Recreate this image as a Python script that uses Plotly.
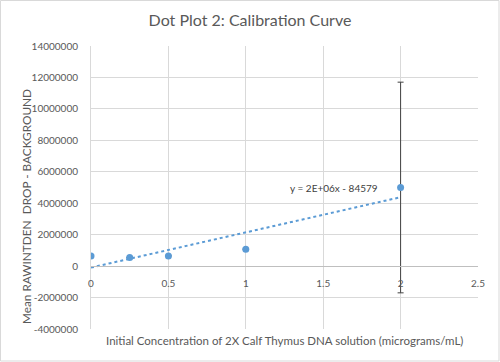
import numpy as np
import plotly.graph_objects as go

conc = [0, 0.25, 0.5, 1, 2]
mean_signal = [650000, 550000, 650000, 1080000, 5000000]
err = [0, 0, 0, 0, 6700000]
err_visible = [False, False, False, False, True]
x_ticks = [0, 0.5, 1, 1.5, 2, 2.5]
x_tick_labels = ["0", "0.5", "1", "1.5", "2", "2.5"]
y_ticks = list(range(-4000000, 14000001, 2000000))
y_tick_labels = [str(v) for v in y_ticks]
equation = "y = 2E+06x - 84579"

slope, intercept = np.polyfit(conc, mean_signal, 1)
tx = [min(conc), max(conc)]
ty = [slope * v + intercept for v in tx]

BLUE = "#5B9BD5"
GRAY = "#595959"
FONT = "Lato"

fig = go.Figure()
fig.add_trace(go.Scatter(x=tx, y=ty, mode="lines",
                         line=dict(color=BLUE, width=2, dash="dot"),
                         hoverinfo="skip", showlegend=False))
fig.add_trace(go.Scatter(
    x=conc, y=mean_signal, mode="markers",
    marker=dict(color=BLUE, size=7),
    error_y=dict(type="data", array=[e if v else None for e, v in zip(err, err_visible)],
                 visible=True, color="#404040", thickness=1, width=3),
    showlegend=False))

fig.update_layout(
    width=500, height=362,
    margin=dict(l=91, r=22, t=46, b=33, autoexpand=False),
    paper_bgcolor="white", plot_bgcolor="white",
    font=dict(family=FONT, color=GRAY, size=10),
    title=dict(text="Dot Plot 2: Calibration Curve", x=250/500, xanchor="center",
               xref="container", y=1 - 20/362, yref="container", yanchor="middle",
               font=dict(size=16, color=GRAY, family=FONT)),
    xaxis=dict(range=[0, 2.5], tickvals=x_ticks, ticktext=x_tick_labels,
               showgrid=True, gridcolor="#D9D9D9", gridwidth=1,
               zeroline=False, showline=True, linecolor="#BFBFBF", linewidth=1,
               anchor="free", position=4/18, ticks="", ticklabelstandoff=8,
               automargin=False, tickfont=dict(size=10, color=GRAY)),
    yaxis=dict(range=[-4000000, 14000000], tickvals=y_ticks, ticktext=y_tick_labels,
               showgrid=True, gridcolor="#D9D9D9", gridwidth=1,
               zeroline=False, showline=True, linecolor="#D9D9D9", linewidth=1,
               ticks="", ticklabelstandoff=10, automargin=False,
               tickfont=dict(size=10, color=GRAY)),
)

fig.add_annotation(text="Mean RAWINTDEN&nbsp; DROP - BACKGROUND",
                   xref="paper", yref="paper", x=-65/387, y=(329-207)/283, xanchor="center", yanchor="middle",
                   textangle=-90, showarrow=False, font=dict(size=11.8, color=GRAY, family=FONT))
fig.add_annotation(text="Initial Concentration of 2X Calf Thymus DNA solution (micrograms/mL)",
                   xref="paper", yref="paper", x=0.5, y=-11/283, xanchor="center", yanchor="middle",
                   showarrow=False, font=dict(size=11.5, color=GRAY, family=FONT))
fig.add_annotation(text=equation, xref="x", yref="y", x=1.867, y=5000000,
                   xanchor="right", yanchor="middle", showarrow=False,
                   font=dict(size=10, color="#404040", family=FONT))
fig.add_shape(type="rect", xref="paper", yref="paper",
              x0=-90.5/387, x1=1 + 21/387, y0=-32/283, y1=1 + 45.5/283,
              line=dict(color="#D9D9D9", width=1), fillcolor="rgba(0,0,0,0)")

fig.write_html("out.html", config={"displayModeBar": False},
               post_script="document.body.style.margin='0';document.body.style.overflow='hidden';")
